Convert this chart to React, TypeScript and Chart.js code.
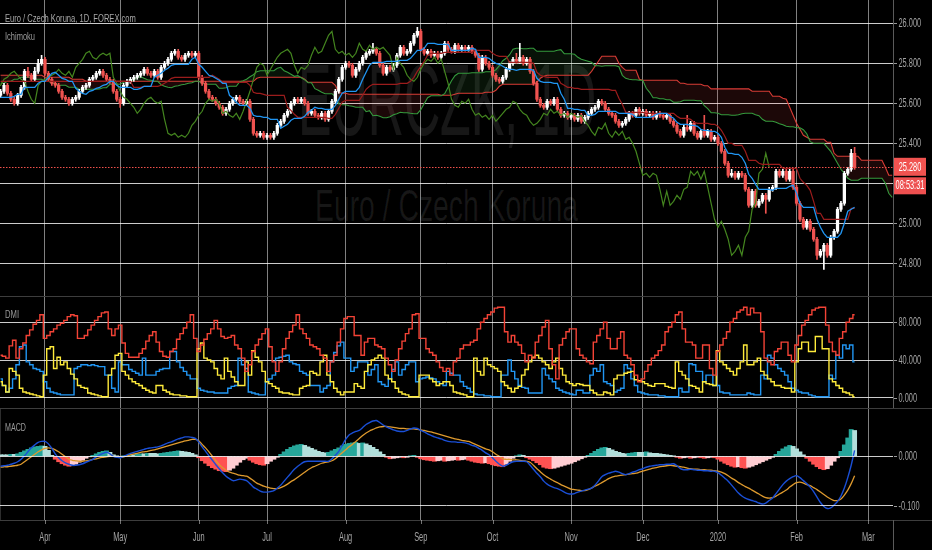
import React, { useEffect, useLayoutEffect, useRef, useState } from 'react';
import { Chart, registerables } from 'chart.js';

Chart.register(...registerables);

// ---------------- data ----------------
const monthLabels = ['Apr', 'May', 'Jun', 'Jul', 'Aug', 'Sep', 'Oct', 'Nov', 'Dec', '2020', 'Feb', 'Mar'];
const monthTickIndex = [13, 35, 58, 78, 101, 123, 144, 167, 188, 210, 233, 254];
const priceTicks = [24.8, 25.0, 25.2, 25.4, 25.6, 25.8, 26.0];
const dmiTicks = [0, 40, 80];
const macdTicks = [-0.1, 0];
const countdownText = '08:53:31';
const ICHI_SHIFT = 25;

const opens = [
  25.64, 25.66, 25.69, 25.65, 25.62, 25.60, 25.64, 25.68, 25.76, 25.74,
  25.72, 25.76, 25.80, 25.82, 25.75, 25.72, 25.70, 25.69, 25.66, 25.63,
  25.62, 25.60, 25.62, 25.63, 25.66, 25.68, 25.69, 25.72, 25.73, 25.75,
  25.76, 25.74, 25.72, 25.71, 25.66, 25.62, 25.60, 25.69, 25.71, 25.72,
  25.73, 25.74, 25.75, 25.77, 25.75, 25.74, 25.76, 25.73, 25.78, 25.80,
  25.82, 25.85, 25.86, 25.83, 25.82, 25.84, 25.85, 25.84, 25.85, 25.73,
  25.70, 25.66, 25.63, 25.62, 25.60, 25.58, 25.55, 25.57, 25.60, 25.62,
  25.63, 25.61, 25.60, 25.61, 25.52, 25.45, 25.44, 25.45, 25.43, 25.44,
  25.43, 25.45, 25.49, 25.51, 25.54, 25.56, 25.60, 25.62, 25.61, 25.62,
  25.60, 25.55, 25.56, 25.54, 25.53, 25.55, 25.52, 25.56, 25.61, 25.66,
  25.72, 25.78, 25.80, 25.79, 25.74, 25.77, 25.80, 25.83, 25.85, 25.86,
  25.87, 25.85, 25.79, 25.75, 25.78, 25.77, 25.79, 25.84, 25.88, 25.85,
  25.86, 25.90, 25.94, 25.96, 25.87, 25.85, 25.86, 25.84, 25.85, 25.83,
  25.85, 25.90, 25.87, 25.86, 25.89, 25.87, 25.88, 25.87, 25.88, 25.86,
  25.84, 25.77, 25.83, 25.80, 25.78, 25.74, 25.72, 25.71, 25.73, 25.77,
  25.80, 25.82, 25.81, 25.83, 25.80, 25.82, 25.76, 25.70, 25.62, 25.59,
  25.58, 25.61, 25.60, 25.62, 25.57, 25.54, 25.55, 25.53, 25.54, 25.52,
  25.54, 25.51, 25.53, 25.55, 25.57, 25.58, 25.61, 25.60, 25.57, 25.55,
  25.54, 25.51, 25.49, 25.50, 25.52, 25.55, 25.54, 25.57, 25.55, 25.56,
  25.54, 25.55, 25.53, 25.55, 25.54, 25.53, 25.54, 25.51, 25.49, 25.46,
  25.44, 25.48, 25.47, 25.50, 25.45, 25.43, 25.46, 25.44, 25.46, 25.42,
  25.43, 25.40, 25.36, 25.30, 25.24, 25.25, 25.23, 25.25, 25.24, 25.17,
  25.09, 25.16, 25.09, 25.11, 25.14, 25.12, 25.17, 25.18, 25.26, 25.24,
  25.26, 25.22, 25.26, 25.18, 25.10, 25.02, 24.98, 25.01, 24.97, 24.92,
  24.84, 24.86, 24.89, 24.84, 24.93, 24.96, 25.07, 25.10, 25.25, 25.27,
  25.35,
];
const highs = [
  25.67, 25.70, 25.70, 25.66, 25.63, 25.65, 25.69, 25.77, 25.78, 25.75,
  25.78, 25.82, 25.84, 25.83, 25.76, 25.73, 25.71, 25.70, 25.67, 25.64,
  25.63, 25.63, 25.64, 25.67, 25.69, 25.70, 25.73, 25.74, 25.76, 25.77,
  25.77, 25.75, 25.73, 25.72, 25.67, 25.63, 25.70, 25.72, 25.73, 25.74,
  25.75, 25.76, 25.78, 25.78, 25.76, 25.77, 25.77, 25.79, 25.81, 25.83,
  25.86, 25.87, 25.87, 25.84, 25.85, 25.86, 25.86, 25.86, 25.86, 25.74,
  25.71, 25.67, 25.64, 25.63, 25.61, 25.59, 25.58, 25.61, 25.63, 25.64,
  25.64, 25.62, 25.62, 25.62, 25.53, 25.46, 25.46, 25.46, 25.45, 25.45,
  25.46, 25.50, 25.52, 25.55, 25.57, 25.61, 25.63, 25.63, 25.63, 25.63,
  25.61, 25.57, 25.57, 25.55, 25.56, 25.56, 25.57, 25.62, 25.67, 25.73,
  25.79, 25.81, 25.81, 25.80, 25.78, 25.81, 25.84, 25.86, 25.87, 25.90,
  25.88, 25.86, 25.80, 25.79, 25.79, 25.80, 25.85, 25.89, 25.89, 25.87,
  25.91, 25.95, 25.98, 25.97, 25.88, 25.87, 25.87, 25.86, 25.86, 25.86,
  25.91, 25.91, 25.88, 25.90, 25.90, 25.89, 25.89, 25.89, 25.89, 25.87,
  25.85, 25.84, 25.84, 25.81, 25.79, 25.75, 25.73, 25.74, 25.78, 25.81,
  25.83, 25.85, 25.90, 25.84, 25.83, 25.83, 25.77, 25.71, 25.63, 25.60,
  25.62, 25.62, 25.63, 25.63, 25.58, 25.56, 25.56, 25.55, 25.55, 25.55,
  25.55, 25.54, 25.56, 25.58, 25.59, 25.62, 25.62, 25.61, 25.58, 25.56,
  25.55, 25.52, 25.51, 25.53, 25.56, 25.56, 25.58, 25.58, 25.57, 25.57,
  25.56, 25.56, 25.56, 25.56, 25.55, 25.55, 25.55, 25.52, 25.50, 25.47,
  25.49, 25.54, 25.51, 25.51, 25.46, 25.47, 25.54, 25.47, 25.47, 25.44,
  25.44, 25.41, 25.37, 25.31, 25.27, 25.26, 25.26, 25.26, 25.25, 25.18,
  25.17, 25.17, 25.12, 25.15, 25.15, 25.18, 25.19, 25.27, 25.27, 25.27,
  25.27, 25.27, 25.27, 25.19, 25.11, 25.03, 25.02, 25.02, 24.98, 24.93,
  24.87, 24.90, 24.90, 24.94, 24.97, 25.08, 25.11, 25.26, 25.28, 25.37,
  25.38,
];
const lows = [
  25.63, 25.65, 25.64, 25.61, 25.59, 25.59, 25.63, 25.67, 25.73, 25.71,
  25.71, 25.75, 25.79, 25.74, 25.71, 25.69, 25.68, 25.65, 25.62, 25.61,
  25.59, 25.59, 25.61, 25.62, 25.65, 25.67, 25.68, 25.71, 25.72, 25.74,
  25.73, 25.71, 25.70, 25.65, 25.61, 25.58, 25.59, 25.68, 25.70, 25.71,
  25.72, 25.73, 25.74, 25.74, 25.73, 25.73, 25.72, 25.72, 25.77, 25.79,
  25.81, 25.84, 25.82, 25.81, 25.81, 25.83, 25.83, 25.83, 25.72, 25.69,
  25.65, 25.62, 25.61, 25.59, 25.57, 25.54, 25.54, 25.56, 25.59, 25.61,
  25.60, 25.59, 25.59, 25.51, 25.44, 25.43, 25.43, 25.42, 25.42, 25.42,
  25.42, 25.44, 25.48, 25.50, 25.53, 25.55, 25.59, 25.60, 25.60, 25.59,
  25.54, 25.54, 25.53, 25.52, 25.52, 25.51, 25.51, 25.55, 25.60, 25.65,
  25.71, 25.77, 25.78, 25.73, 25.73, 25.76, 25.79, 25.82, 25.84, 25.85,
  25.84, 25.78, 25.74, 25.74, 25.76, 25.76, 25.78, 25.83, 25.84, 25.84,
  25.85, 25.89, 25.93, 25.86, 25.84, 25.84, 25.83, 25.83, 25.82, 25.82,
  25.84, 25.86, 25.85, 25.85, 25.86, 25.86, 25.86, 25.86, 25.85, 25.83,
  25.76, 25.76, 25.79, 25.77, 25.73, 25.71, 25.70, 25.70, 25.72, 25.76,
  25.79, 25.80, 25.80, 25.79, 25.79, 25.75, 25.69, 25.61, 25.58, 25.57,
  25.57, 25.59, 25.59, 25.56, 25.53, 25.53, 25.52, 25.52, 25.51, 25.51,
  25.50, 25.50, 25.52, 25.54, 25.56, 25.57, 25.59, 25.56, 25.54, 25.53,
  25.50, 25.48, 25.48, 25.49, 25.51, 25.53, 25.53, 25.54, 25.54, 25.53,
  25.53, 25.52, 25.52, 25.53, 25.52, 25.52, 25.50, 25.48, 25.45, 25.43,
  25.43, 25.46, 25.46, 25.44, 25.42, 25.42, 25.43, 25.43, 25.41, 25.41,
  25.39, 25.35, 25.29, 25.23, 25.23, 25.22, 25.22, 25.23, 25.16, 25.08,
  25.08, 25.08, 25.08, 25.10, 25.05, 25.11, 25.16, 25.17, 25.23, 25.23,
  25.21, 25.21, 25.17, 25.09, 25.01, 24.97, 24.97, 24.96, 24.91, 24.82,
  24.83, 24.77, 24.83, 24.83, 24.92, 24.95, 25.06, 25.09, 25.24, 25.26,
  25.27,
];
const closes = [
  25.66, 25.69, 25.65, 25.62, 25.60, 25.64, 25.68, 25.76, 25.74, 25.72,
  25.76, 25.80, 25.82, 25.75, 25.72, 25.70, 25.69, 25.66, 25.63, 25.62,
  25.60, 25.62, 25.63, 25.66, 25.68, 25.69, 25.72, 25.73, 25.75, 25.76,
  25.74, 25.72, 25.71, 25.66, 25.62, 25.60, 25.69, 25.71, 25.72, 25.73,
  25.74, 25.75, 25.77, 25.75, 25.74, 25.76, 25.73, 25.78, 25.80, 25.82,
  25.85, 25.86, 25.83, 25.82, 25.84, 25.85, 25.84, 25.85, 25.73, 25.70,
  25.66, 25.63, 25.62, 25.60, 25.58, 25.55, 25.57, 25.60, 25.62, 25.63,
  25.61, 25.60, 25.61, 25.52, 25.45, 25.44, 25.45, 25.43, 25.44, 25.43,
  25.45, 25.49, 25.51, 25.54, 25.56, 25.60, 25.62, 25.61, 25.62, 25.60,
  25.55, 25.56, 25.54, 25.53, 25.55, 25.52, 25.56, 25.61, 25.66, 25.72,
  25.78, 25.80, 25.79, 25.74, 25.77, 25.80, 25.83, 25.85, 25.86, 25.87,
  25.85, 25.79, 25.75, 25.78, 25.77, 25.79, 25.84, 25.88, 25.85, 25.86,
  25.90, 25.94, 25.96, 25.87, 25.85, 25.86, 25.84, 25.85, 25.83, 25.85,
  25.90, 25.87, 25.86, 25.89, 25.87, 25.88, 25.87, 25.88, 25.86, 25.84,
  25.77, 25.83, 25.80, 25.78, 25.74, 25.72, 25.71, 25.73, 25.77, 25.80,
  25.82, 25.81, 25.83, 25.80, 25.82, 25.76, 25.70, 25.62, 25.59, 25.58,
  25.61, 25.60, 25.62, 25.57, 25.54, 25.55, 25.53, 25.54, 25.52, 25.54,
  25.51, 25.53, 25.55, 25.57, 25.58, 25.61, 25.60, 25.57, 25.55, 25.54,
  25.51, 25.49, 25.50, 25.52, 25.55, 25.54, 25.57, 25.55, 25.56, 25.54,
  25.55, 25.53, 25.55, 25.54, 25.53, 25.54, 25.51, 25.49, 25.46, 25.44,
  25.48, 25.47, 25.50, 25.45, 25.43, 25.46, 25.44, 25.46, 25.42, 25.43,
  25.40, 25.36, 25.30, 25.24, 25.25, 25.23, 25.25, 25.24, 25.17, 25.09,
  25.16, 25.09, 25.11, 25.14, 25.12, 25.17, 25.18, 25.26, 25.24, 25.26,
  25.22, 25.26, 25.18, 25.10, 25.02, 24.98, 25.01, 24.97, 24.92, 24.84,
  24.86, 24.89, 24.84, 24.93, 24.96, 25.07, 25.10, 25.25, 25.27, 25.35,
  25.28,
];

// Ichimoku conversion (blue) and base (dark red) lines, per bar
const tenkan = [
  25.63, 25.63, 25.63, 25.63, 25.635, 25.645, 25.645, 25.68, 25.68, 25.68,
  25.68, 25.70, 25.71, 25.71, 25.73, 25.75, 25.755, 25.74, 25.725, 25.72,
  25.71, 25.71, 25.675, 25.66, 25.65, 25.645, 25.66, 25.665, 25.675, 25.68,
  25.69, 25.695, 25.71, 25.71, 25.69, 25.68, 25.68, 25.68, 25.68, 25.67,
  25.67, 25.675, 25.685, 25.685, 25.685, 25.73, 25.74, 25.75, 25.765, 25.775,
  25.79, 25.795, 25.795, 25.795, 25.795, 25.795, 25.82, 25.83, 25.795, 25.78,
  25.76, 25.74, 25.735, 25.725, 25.715, 25.70, 25.70, 25.64, 25.625, 25.605,
  25.59, 25.59, 25.59, 25.575, 25.54, 25.535, 25.535, 25.53, 25.53, 25.52,
  25.52, 25.52, 25.475, 25.485, 25.495, 25.515, 25.525, 25.525, 25.525, 25.535,
  25.555, 25.565, 25.58, 25.575, 25.575, 25.57, 25.57, 25.57, 25.59, 25.62,
  25.65, 25.66, 25.66, 25.66, 25.66, 25.68, 25.72, 25.755, 25.79, 25.805,
  25.805, 25.805, 25.805, 25.81, 25.81, 25.81, 25.81, 25.815, 25.815, 25.815,
  25.825, 25.845, 25.865, 25.865, 25.875, 25.90, 25.90, 25.90, 25.895, 25.895,
  25.895, 25.895, 25.865, 25.865, 25.865, 25.865, 25.865, 25.865, 25.875, 25.87,
  25.83, 25.83, 25.83, 25.825, 25.81, 25.80, 25.795, 25.785, 25.775, 25.77,
  25.77, 25.765, 25.77, 25.77, 25.77, 25.77, 25.765, 25.725, 25.71, 25.705,
  25.705, 25.705, 25.70, 25.70, 25.65, 25.62, 25.575, 25.575, 25.57, 25.57,
  25.565, 25.565, 25.54, 25.54, 25.545, 25.56, 25.56, 25.56, 25.56, 25.56,
  25.56, 25.55, 25.55, 25.55, 25.55, 25.545, 25.53, 25.53, 25.53, 25.53,
  25.53, 25.535, 25.545, 25.55, 25.55, 25.55, 25.535, 25.525, 25.505, 25.495,
  25.495, 25.495, 25.49, 25.49, 25.485, 25.47, 25.465, 25.465, 25.46, 25.46,
  25.45, 25.43, 25.38, 25.35, 25.35, 25.345, 25.345, 25.33, 25.30, 25.245,
  25.225, 25.195, 25.17, 25.17, 25.17, 25.17, 25.165, 25.175, 25.175, 25.175,
  25.175, 25.185, 25.19, 25.15, 25.10, 25.08, 25.08, 25.08, 25.08, 25.02,
  24.98, 24.95, 24.93, 24.93, 24.93, 24.93, 24.95, 25.00, 25.06, 25.07,
  25.08,
];
const kijun = [
  25.71, 25.71, 25.71, 25.71, 25.71, 25.71, 25.71, 25.71, 25.71, 25.71,
  25.71, 25.71, 25.71, 25.71, 25.71, 25.71, 25.71, 25.71, 25.71, 25.71,
  25.71, 25.71, 25.71, 25.71, 25.71, 25.71, 25.71, 25.71, 25.71, 25.71,
  25.71, 25.71, 25.71, 25.71, 25.71, 25.71, 25.71, 25.71, 25.71, 25.68,
  25.68, 25.68, 25.685, 25.685, 25.685, 25.685, 25.685, 25.69, 25.70, 25.71,
  25.725, 25.73, 25.73, 25.73, 25.73, 25.73, 25.73, 25.73, 25.73, 25.73,
  25.73, 25.73, 25.74, 25.73, 25.72, 25.705, 25.705, 25.705, 25.705, 25.705,
  25.705, 25.705, 25.705, 25.69, 25.655, 25.65, 25.65, 25.645, 25.64, 25.64,
  25.64, 25.64, 25.64, 25.64, 25.58, 25.565, 25.545, 25.53, 25.53, 25.53,
  25.53, 25.53, 25.53, 25.53, 25.53, 25.53, 25.525, 25.525, 25.545, 25.575,
  25.605, 25.615, 25.615, 25.615, 25.615, 25.615, 25.64, 25.67, 25.685, 25.695,
  25.695, 25.695, 25.695, 25.695, 25.695, 25.695, 25.695, 25.70, 25.70, 25.70,
  25.71, 25.73, 25.76, 25.785, 25.81, 25.84, 25.85, 25.85, 25.85, 25.85,
  25.855, 25.855, 25.855, 25.855, 25.855, 25.855, 25.855, 25.855, 25.855, 25.865,
  25.865, 25.865, 25.865, 25.865, 25.85, 25.84, 25.835, 25.835, 25.835, 25.805,
  25.805, 25.805, 25.805, 25.805, 25.805, 25.805, 25.80, 25.755, 25.74, 25.735,
  25.73, 25.73, 25.73, 25.73, 25.70, 25.69, 25.68, 25.68, 25.675, 25.675,
  25.67, 25.67, 25.67, 25.67, 25.67, 25.67, 25.67, 25.67, 25.67, 25.665,
  25.665, 25.625, 25.595, 25.555, 25.555, 25.555, 25.555, 25.555, 25.555, 25.55,
  25.55, 25.55, 25.55, 25.55, 25.55, 25.55, 25.55, 25.55, 25.535, 25.525,
  25.525, 25.525, 25.52, 25.505, 25.50, 25.50, 25.50, 25.50, 25.495, 25.495,
  25.485, 25.465, 25.435, 25.40, 25.40, 25.39, 25.39, 25.39, 25.36, 25.315,
  25.315, 25.315, 25.30, 25.295, 25.295, 25.295, 25.295, 25.295, 25.295, 25.275,
  25.275, 25.275, 25.275, 25.275, 25.225, 25.205, 25.19, 25.165, 25.11, 25.05,
  25.05, 25.02, 25.02, 25.02, 25.02, 25.02, 25.02, 25.02, 25.02, 25.075,
  25.075,
];

// Leading spans, already at their plotted (forward-shifted) positions 0..261
const leadA = [
  25.70, 25.70, 25.71, 25.71, 25.72, 25.72, 25.73, 25.73, 25.73, 25.73,
  25.72, 25.72, 25.72, 25.71, 25.71, 25.70, 25.70, 25.69, 25.69, 25.69,
  25.68, 25.68, 25.68, 25.67, 25.67,
  25.67, 25.67, 25.67, 25.67, 25.672, 25.678, 25.678, 25.695, 25.695, 25.695,
  25.695, 25.705, 25.71, 25.71, 25.72, 25.73, 25.733, 25.725, 25.718, 25.715,
  25.71, 25.71, 25.693, 25.685, 25.68, 25.678, 25.685, 25.688, 25.693, 25.695,
  25.70, 25.703, 25.71, 25.71, 25.70, 25.695, 25.695, 25.695, 25.695, 25.675,
  25.675, 25.678, 25.685, 25.685, 25.685, 25.708, 25.713, 25.72, 25.733, 25.743,
  25.758, 25.763, 25.763, 25.763, 25.763, 25.763, 25.775, 25.78, 25.763, 25.755,
  25.745, 25.735, 25.738, 25.728, 25.718, 25.703, 25.703, 25.673, 25.665, 25.655,
  25.648, 25.648, 25.648, 25.633, 25.598, 25.593, 25.593, 25.588, 25.585, 25.58,
  25.58, 25.58, 25.558, 25.563, 25.538, 25.54, 25.535, 25.528, 25.528, 25.533,
  25.543, 25.548, 25.555, 25.553, 25.553, 25.55, 25.548, 25.548, 25.568, 25.598,
  25.628, 25.638, 25.638, 25.638, 25.638, 25.648, 25.68, 25.713, 25.738, 25.75,
  25.75, 25.75, 25.75, 25.753, 25.753, 25.753, 25.753, 25.758, 25.758, 25.758,
  25.768, 25.788, 25.813, 25.825, 25.843, 25.87, 25.875, 25.875, 25.873, 25.873,
  25.875, 25.875, 25.86, 25.86, 25.86, 25.86, 25.86, 25.86, 25.865, 25.868,
  25.848, 25.848, 25.848, 25.845, 25.83, 25.82, 25.815, 25.81, 25.805, 25.788,
  25.788, 25.785, 25.788, 25.788, 25.788, 25.788, 25.783, 25.74, 25.725, 25.72,
  25.718, 25.718, 25.715, 25.715, 25.675, 25.655, 25.628, 25.628, 25.623, 25.623,
  25.618, 25.618, 25.605, 25.605, 25.608, 25.615, 25.615, 25.615, 25.615, 25.613,
  25.613, 25.588, 25.573, 25.553, 25.553, 25.55, 25.543, 25.543, 25.543, 25.54,
  25.54, 25.543, 25.548, 25.55, 25.55, 25.55, 25.543, 25.538, 25.52, 25.51,
  25.51, 25.51, 25.505, 25.498, 25.493, 25.485, 25.483, 25.483, 25.478, 25.478,
  25.468, 25.448, 25.408, 25.40, 25.40, 25.40, 25.40, 25.38, 25.36, 25.33,
  25.30, 25.27, 25.25, 25.225, 25.215, 25.215, 25.215, 25.225, 25.225, 25.225,
  25.225, 25.225, 25.225, 25.225, 25.20, 25.15, 25.13,
];
const leadB = [
  25.74, 25.74, 25.74, 25.74, 25.74, 25.74, 25.74, 25.74, 25.74, 25.74,
  25.74, 25.74, 25.74, 25.73, 25.73, 25.73, 25.73, 25.73, 25.73, 25.73,
  25.73, 25.72, 25.72, 25.72, 25.72,
  25.71, 25.71, 25.71, 25.71, 25.71, 25.71, 25.71, 25.71, 25.71, 25.71,
  25.71, 25.71, 25.71, 25.71, 25.71, 25.71, 25.71, 25.71, 25.71, 25.71,
  25.71, 25.71, 25.71, 25.71, 25.71, 25.71, 25.71, 25.71, 25.71, 25.71,
  25.71, 25.71, 25.71, 25.71, 25.71, 25.71, 25.71, 25.71, 25.71, 25.71,
  25.71, 25.71, 25.71, 25.71, 25.71, 25.71, 25.71, 25.71, 25.71, 25.71,
  25.725, 25.73, 25.73, 25.73, 25.73, 25.73, 25.73, 25.73, 25.73, 25.73,
  25.73, 25.73, 25.73, 25.73, 25.72, 25.705, 25.705, 25.705, 25.705, 25.705,
  25.705, 25.705, 25.705, 25.69, 25.655, 25.65, 25.65, 25.645, 25.645, 25.645,
  25.645, 25.645, 25.645, 25.645, 25.645, 25.645, 25.645, 25.645, 25.645, 25.645,
  25.645, 25.645, 25.645, 25.645, 25.645, 25.645, 25.645, 25.645, 25.645, 25.645,
  25.645, 25.645, 25.645, 25.645, 25.64, 25.64, 25.64, 25.64, 25.645, 25.65,
  25.65, 25.65, 25.65, 25.65, 25.65, 25.65, 25.65, 25.655, 25.655, 25.655,
  25.665, 25.685, 25.695, 25.695, 25.695, 25.695, 25.695, 25.695, 25.695, 25.695,
  25.695, 25.695, 25.705, 25.725, 25.735, 25.74, 25.74, 25.74, 25.74, 25.74,
  25.74, 25.74, 25.74, 25.74, 25.74, 25.74, 25.74, 25.74, 25.76, 25.785,
  25.81, 25.835, 25.835, 25.835, 25.835, 25.835, 25.80, 25.78, 25.765, 25.765,
  25.765, 25.765, 25.72, 25.715, 25.715, 25.715, 25.715, 25.715, 25.715, 25.715,
  25.715, 25.715, 25.715, 25.715, 25.70, 25.70, 25.695, 25.695, 25.695, 25.695,
  25.695, 25.688, 25.688, 25.672, 25.672, 25.672, 25.672, 25.672, 25.672, 25.672,
  25.672, 25.672, 25.672, 25.672, 25.672, 25.66, 25.66, 25.66, 25.66, 25.66,
  25.66, 25.635, 25.635, 25.635, 25.625, 25.62, 25.58, 25.54, 25.50, 25.47,
  25.44, 25.43, 25.42, 25.42, 25.42, 25.42, 25.42, 25.405, 25.405, 25.35,
  25.335, 25.335, 25.335, 25.335, 25.335, 25.335, 25.335, 25.315, 25.315, 25.315,
  25.315, 25.315, 25.315, 25.315, 25.28, 25.24, 25.24,
];

// DMI pane
const adx = [
  45, 44, 42, 55, 61, 42, 52, 58, 66, 72, 78, 82, 88, 63, 66, 70, 73, 77, 79, 82,
  86, 88, 87, 63, 63, 66, 72, 77, 82, 86, 90, 91, 73, 66, 73, 77, 58, 47, 43, 43,
  43, 47, 52, 60, 66, 70, 59, 49, 44, 43, 49, 52, 62, 68, 74, 80, 88, 63, 49, 56,
  62, 68, 73, 82, 73, 65, 63, 64, 66, 56, 52, 42, 28, 35, 49, 56, 62, 68, 73, 54,
  38, 28, 38, 52, 63, 70, 77, 88, 73, 68, 63, 56, 54, 52, 45, 42, 28, 38, 45, 59,
  73, 84, 86, 86, 66, 66, 45, 59, 63, 63, 56, 54, 52, 42, 35, 28, 40, 52, 60, 68,
  73, 88, 89, 63, 63, 52, 48, 45, 38, 32, 28, 31, 24, 38, 42, 52, 56, 56, 59, 61,
  73, 80, 84, 88, 91, 95, 96, 96, 70, 59, 66, 59, 56, 47, 38, 45, 42, 59, 66, 75,
  82, 52, 35, 20, 56, 63, 70, 73, 73, 52, 45, 42, 38, 36, 59, 66, 73, 80, 63, 52,
  52, 63, 70, 45, 42, 35, 24, 17, 20, 28, 35, 42, 45, 50, 56, 70, 75, 80, 88, 91,
  73, 59, 59, 56, 42, 42, 56, 56, 31, 24, 49, 56, 63, 70, 80, 84, 91, 93, 96, 88,
  95, 90, 90, 70, 42, 38, 35, 49, 52, 59, 59, 45, 38, 56, 66, 77, 82, 88, 93, 95,
  96, 96, 77, 59, 49, 45, 63, 70, 80, 84, 88,
];
const diPlus = [
  20, 13, 6, 10, 20, 35, 54, 56, 38, 35, 31, 30, 28, 17, 10, 6, 5, 4, 3, 3,
  3, 3, 31, 33, 35, 35, 34, 35, 34, 33, 33, 24, 24, 10, 6, 38, 35, 35, 30, 28,
  26, 24, 42, 24, 24, 24, 28, 30, 31, 31, 49, 49, 38, 32, 28, 24, 20, 20, 10, 8,
  7, 6, 6, 5, 5, 5, 5, 10, 12, 13, 42, 35, 31, 6, 5, 4, 3, 3, 17, 20,
  24, 42, 43, 44, 45, 38, 36, 35, 28, 26, 24, 13, 13, 13, 6, 10, 13, 38, 48, 55,
  59, 42, 42, 28, 32, 38, 38, 38, 24, 30, 35, 17, 14, 12, 20, 30, 38, 24, 30, 35,
  38, 38, 17, 20, 21, 22, 21, 20, 17, 15, 13, 28, 26, 24, 24, 17, 12, 10, 6, 4,
  3, 3, 2, 2, 1, 1, 1, 24, 24, 40, 28, 20, 13, 11, 10, 5, 5, 5, 5, 31,
  24, 20, 17, 10, 8, 6, 5, 4, 3, 8, 8, 5, 5, 24, 31, 28, 35, 17, 15, 13,
  6, 8, 10, 35, 31, 20, 13, 6, 5, 4, 3, 3, 3, 2, 2, 1, 1, 1, 1, 10,
  6, 6, 36, 35, 28, 28, 17, 24, 24, 13, 13, 6, 5, 5, 3, 3, 3, 3, 3, 5,
  4, 3, 3, 24, 20, 45, 42, 35, 31, 28, 24, 17, 10, 8, 6, 5, 5, 3, 2, 1,
  1, 1, 1, 24, 20, 45, 42, 56, 52, 56, 38,
];
const diMinus = [
  17, 13, 6, 31, 28, 24, 10, 6, 5, 4, 3, 2, 1, 24, 52, 54, 31, 43, 35, 38,
  31, 25, 20, 13, 11, 10, 5, 4, 3, 2, 1, 1, 24, 31, 45, 47, 28, 24, 20, 17,
  15, 13, 10, 8, 6, 5, 13, 13, 8, 6, 4, 3, 3, 2, 2, 1, 1, 1, 52, 58,
  42, 40, 38, 31, 24, 20, 42, 28, 22, 17, 13, 13, 38, 24, 50, 43, 38, 28, 17, 15,
  12, 10, 6, 5, 5, 4, 3, 3, 10, 12, 13, 28, 26, 24, 38, 45, 24, 17, 10, 6,
  3, 6, 6, 6, 15, 12, 10, 28, 35, 40, 42, 45, 42, 24, 20, 17, 10, 6, 4, 3,
  1, 1, 1, 24, 24, 24, 20, 17, 13, 15, 17, 17, 13, 6, 5, 4, 3, 1, 1, 42,
  28, 24, 42, 35, 33, 31, 28, 17, 13, 10, 6, 10, 12, 24, 30, 38, 43, 45, 42, 38,
  35, 31, 38, 42, 31, 24, 17, 15, 13, 15, 14, 13, 13, 8, 5, 3, 3, 6, 5, 3,
  20, 24, 24, 26, 27, 28, 19, 18, 17, 15, 13, 12, 15, 15, 15, 12, 11, 10, 38, 28,
  24, 20, 13, 12, 10, 6, 17, 15, 14, 13, 50, 38, 35, 31, 28, 24, 31, 38, 56, 35,
  35, 38, 42, 28, 24, 20, 17, 13, 13, 11, 10, 10, 6, 38, 52, 59, 59, 49, 49, 65,
  65, 52, 52, 20, 17, 13, 10, 6, 5, 3, 1,
];

// MACD pane
const macdLine = [
  -0.020, -0.019, -0.018, -0.016, -0.014, -0.011, -0.006, 0.001, 0.009, 0.017,
  0.023, 0.028, 0.030, 0.030, 0.025, 0.016, 0.005, -0.003, -0.009, -0.013,
  -0.016, -0.018, -0.018, -0.017, -0.015, -0.012, -0.009, -0.006, -0.001, 0.003,
  0.006, 0.008, 0.005, 0.000, -0.002, -0.003, 0.000, 0.003, 0.006, 0.008,
  0.010, 0.012, 0.014, 0.016, 0.017, 0.018, 0.019, 0.021, 0.024, 0.027,
  0.029, 0.032, 0.035, 0.037, 0.039, 0.039, 0.038, 0.036, 0.029, 0.019,
  0.010, 0.001, -0.008, -0.017, -0.025, -0.033, -0.040, -0.045, -0.049, -0.048,
  -0.046, -0.047, -0.049, -0.055, -0.062, -0.066, -0.070, -0.072, -0.072, -0.071,
  -0.069, -0.064, -0.058, -0.050, -0.042, -0.034, -0.026, -0.020, -0.015, -0.011,
  -0.010, -0.010, -0.010, -0.010, -0.010, -0.010, -0.010, -0.005, 0.002, 0.010,
  0.022, 0.034, 0.043, 0.047, 0.050, 0.052, 0.058, 0.064, 0.068, 0.071,
  0.072, 0.068, 0.063, 0.059, 0.056, 0.053, 0.051, 0.050, 0.050, 0.052,
  0.055, 0.057, 0.056, 0.052, 0.049, 0.045, 0.042, 0.039, 0.037, 0.035,
  0.032, 0.030, 0.029, 0.029, 0.028, 0.028, 0.027, 0.025, 0.022, 0.020,
  0.016, 0.012, 0.007, 0.003, -0.003, -0.010, -0.016, -0.020, -0.018, -0.014,
  -0.011, -0.010, -0.010, -0.010, -0.011, -0.018, -0.026, -0.034, -0.041, -0.050,
  -0.056, -0.060, -0.063, -0.065, -0.068, -0.072, -0.075, -0.076, -0.075, -0.072,
  -0.070, -0.068, -0.066, -0.064, -0.058, -0.050, -0.041, -0.037, -0.034, -0.032,
  -0.030, -0.032, -0.035, -0.037, -0.035, -0.032, -0.030, -0.027, -0.025, -0.022,
  -0.020, -0.019, -0.018, -0.017, -0.017, -0.016, -0.016, -0.015, -0.019, -0.025,
  -0.027, -0.027, -0.026, -0.027, -0.028, -0.028, -0.029, -0.029, -0.030, -0.030,
  -0.033, -0.038, -0.044, -0.050, -0.058, -0.066, -0.074, -0.080, -0.084, -0.087,
  -0.089, -0.091, -0.094, -0.096, -0.094, -0.089, -0.084, -0.075, -0.066, -0.057,
  -0.050, -0.045, -0.041, -0.039, -0.043, -0.049, -0.055, -0.062, -0.071, -0.082,
  -0.093, -0.101, -0.105, -0.104, -0.098, -0.091, -0.080, -0.064, -0.043, -0.018,
  0.012,
];
const signalLine = [
  -0.022, -0.021, -0.021, -0.020, -0.019, -0.018, -0.016, -0.011, -0.006, -0.001,
  0.004, 0.009, 0.013, 0.016, 0.017, 0.016, 0.013, 0.009, 0.004, -0.001,
  -0.006, -0.008, -0.009, -0.010, -0.010, -0.009, -0.008, -0.006, -0.005, -0.003,
  -0.002, -0.001, 0.000, 0.000, -0.001, -0.002, -0.001, 0.001, 0.003, 0.005,
  0.006, 0.008, 0.009, 0.010, 0.012, 0.013, 0.015, 0.017, 0.019, 0.021,
  0.023, 0.025, 0.027, 0.029, 0.031, 0.032, 0.034, 0.034, 0.031, 0.024,
  0.017, 0.009, 0.000, -0.009, -0.017, -0.023, -0.028, -0.032, -0.034, -0.036,
  -0.038, -0.039, -0.040, -0.044, -0.049, -0.054, -0.057, -0.060, -0.062, -0.064,
  -0.065, -0.065, -0.063, -0.060, -0.056, -0.051, -0.047, -0.042, -0.037, -0.032,
  -0.027, -0.023, -0.020, -0.017, -0.014, -0.012, -0.011, -0.009, -0.005, 0.001,
  0.007, 0.013, 0.019, 0.024, 0.030, 0.036, 0.042, 0.047, 0.051, 0.054,
  0.057, 0.059, 0.060, 0.060, 0.059, 0.058, 0.057, 0.056, 0.056, 0.055,
  0.055, 0.055, 0.054, 0.053, 0.052, 0.050, 0.049, 0.047, 0.045, 0.043,
  0.041, 0.039, 0.037, 0.035, 0.034, 0.032, 0.031, 0.030, 0.027, 0.024,
  0.021, 0.018, 0.015, 0.013, 0.009, 0.004, 0.000, -0.005, -0.006, -0.006,
  -0.007, -0.007, -0.008, -0.009, -0.010, -0.012, -0.018, -0.025, -0.031, -0.037,
  -0.042, -0.046, -0.050, -0.053, -0.057, -0.060, -0.063, -0.066, -0.067, -0.068,
  -0.069, -0.069, -0.067, -0.064, -0.060, -0.057, -0.053, -0.049, -0.045, -0.042,
  -0.040, -0.039, -0.038, -0.037, -0.036, -0.035, -0.034, -0.032, -0.030, -0.028,
  -0.026, -0.024, -0.023, -0.021, -0.020, -0.019, -0.018, -0.019, -0.020, -0.021,
  -0.022, -0.024, -0.025, -0.026, -0.026, -0.027, -0.027, -0.028, -0.028, -0.029,
  -0.030, -0.032, -0.035, -0.039, -0.044, -0.048, -0.053, -0.057, -0.061, -0.064,
  -0.068, -0.072, -0.076, -0.080, -0.083, -0.084, -0.083, -0.080, -0.076, -0.072,
  -0.068, -0.062, -0.057, -0.053, -0.052, -0.054, -0.057, -0.059, -0.063, -0.067,
  -0.072, -0.077, -0.082, -0.086, -0.089, -0.089, -0.086, -0.078, -0.068, -0.055,
  -0.039,
];
const macdHist = [
  0.003, 0.003, 0.003, 0.004, 0.004, 0.005, 0.008, 0.011, 0.014, 0.017,
  0.019, 0.020, 0.021, 0.020, 0.012, 0.002, -0.006, -0.011, -0.015, -0.018,
  -0.020, -0.019, -0.016, -0.012, -0.008, -0.004, -0.001, 0.002, 0.005, 0.008,
  0.010, 0.011, 0.008, 0.003, 0.001, -0.002, 0.001, 0.002, 0.003, 0.003,
  0.004, 0.005, 0.005, 0.006, 0.006, 0.006, 0.005, 0.006, 0.007, 0.008,
  0.009, 0.010, 0.011, 0.010, 0.009, 0.008, 0.006, 0.003, -0.003, -0.009,
  -0.014, -0.019, -0.023, -0.026, -0.029, -0.030, -0.031, -0.028, -0.024, -0.018,
  -0.012, -0.007, -0.004, -0.008, -0.012, -0.015, -0.017, -0.018, -0.015, -0.010,
  -0.006, -0.002, 0.004, 0.009, 0.014, 0.018, 0.021, 0.023, 0.024, 0.022,
  0.019, 0.016, 0.013, 0.010, 0.008, 0.007, 0.008, 0.011, 0.014, 0.017,
  0.021, 0.024, 0.026, 0.027, 0.028, 0.026, 0.027, 0.025, 0.022, 0.018,
  0.014, 0.009, 0.004, -0.002, -0.005, -0.004, -0.003, -0.002, -0.003, -0.002,
  0.001, 0.002, -0.002, -0.005, -0.007, -0.008, -0.009, -0.010, -0.009, -0.008,
  -0.010, -0.009, -0.008, -0.007, -0.008, -0.007, -0.006, -0.008, -0.010, -0.012,
  -0.013, -0.014, -0.013, -0.015, -0.017, -0.019, -0.020, -0.021, -0.016, -0.010,
  -0.004, 0.001, 0.003, 0.002, -0.003, -0.006, -0.009, -0.013, -0.017, -0.022,
  -0.024, -0.025, -0.024, -0.022, -0.020, -0.018, -0.016, -0.014, -0.011, -0.008,
  -0.005, -0.002, 0.002, 0.006, 0.010, 0.014, 0.017, 0.018, 0.016, 0.013,
  0.010, 0.008, 0.006, 0.005, 0.006, 0.007, 0.008, 0.008, 0.008, 0.009,
  0.007, 0.006, 0.006, 0.005, 0.004, 0.003, 0.002, 0.001, -0.002, -0.004,
  -0.003, -0.002, -0.004, -0.003, -0.002, -0.003, -0.004, -0.003, -0.002, -0.003,
  -0.006, -0.010, -0.014, -0.017, -0.020, -0.022, -0.021, -0.023, -0.024, -0.022,
  -0.020, -0.017, -0.014, -0.011, -0.008, -0.005, -0.002, 0.004, 0.010, 0.015,
  0.019, 0.022, 0.020, 0.015, 0.009, 0.003, -0.004, -0.010, -0.016, -0.021,
  -0.025, -0.027, -0.025, -0.018, -0.010, -0.003, 0.010, 0.023, 0.037, 0.054,
  0.052,
];

// ---------------- layout / style ----------------
const W = 932;
const MAIN_H = 296;
const DMI_H = 112;
const MACD_H = 142;
const X_AXIS_H = 30;
const AXIS_W = 39;
const X_MIN = -0.173;
const X_MAX = 261.24;
const FONT = '"Liberation Sans", Arial, Helvetica, sans-serif';
const SQUEEZE = 0.57;
const UP = '#ffffff';
const DOWN = '#ef5350';
const LABEL_COLOR = '#a3a3a3';
const SEP_COLOR = '#3d3d3d';

function drawSqueezed(ctx: CanvasRenderingContext2D, text: string, x: number, y: number, align: CanvasTextAlign) {
  ctx.save();
  ctx.translate(x, y);
  ctx.scale(SQUEEZE, 1);
  ctx.textAlign = align;
  ctx.fillText(text, 0, 0);
  ctx.restore();
}

const paneDecor = {
  id: 'paneDecor',
  afterDraw(chart: any, _args: any, opts: any) {
    const { ctx, chartArea } = chart;
    const ys = chart.scales.y;
    const xs = chart.scales.x;
    ctx.save();
    ctx.font = `13px ${FONT}`;
    ctx.textBaseline = 'middle';
    ctx.lineWidth = 1;
    ctx.strokeStyle = SEP_COLOR;
    if (opts.topSeparator) {
      ctx.beginPath();
      ctx.moveTo(0, 0.5);
      ctx.lineTo(chart.width, 0.5);
      ctx.stroke();
    }
    if (opts.timeAxis) {
      const by = Math.round(chartArea.bottom) + 0.5;
      ctx.beginPath();
      ctx.moveTo(0, by);
      ctx.lineTo(chart.width, by);
      ctx.stroke();
      ctx.strokeStyle = '#5a5a5a';
      const rx = Math.round(chartArea.right) + 0.5;
      ctx.beginPath();
      ctx.moveTo(rx, chartArea.bottom);
      ctx.lineTo(rx, chart.height);
      ctx.stroke();
      ctx.fillStyle = LABEL_COLOR;
      xs.ticks.forEach((t: any, i: number) => {
        const px = xs.getPixelForValue(t.value);
        ctx.strokeStyle = 'rgba(255,255,255,0.45)';
        ctx.beginPath();
        ctx.moveTo(Math.round(px) + 0.5, chartArea.bottom);
        ctx.lineTo(Math.round(px) + 0.5, chartArea.bottom + 4);
        ctx.stroke();
        drawSqueezed(ctx, monthLabels[i], px, chartArea.bottom + 17, 'center');
      });
    }
    ys.ticks.forEach((t: any) => {
      const py = Math.round(ys.getPixelForValue(t.value)) + 0.5;
      ctx.strokeStyle = 'rgba(255,255,255,0.6)';
      ctx.beginPath();
      ctx.moveTo(chartArea.right + 1, py);
      ctx.lineTo(chartArea.right + 4, py);
      ctx.stroke();
      ctx.fillStyle = LABEL_COLOR;
      drawSqueezed(ctx, t.value.toFixed(3), chartArea.right + 5.5, py, 'left');
    });
    if (opts.lastPrice) {
      const last = closes[closes.length - 1];
      const py = ys.getPixelForValue(last);
      const ly = Math.round(py) + 0.5;
      ctx.strokeStyle = '#f0504a';
      ctx.setLineDash([1.5, 1.5]);
      ctx.beginPath();
      ctx.moveTo(chartArea.left, ly);
      ctx.lineTo(chartArea.right, ly);
      ctx.stroke();
      ctx.setLineDash([]);
      const bx = chartArea.right + 1;
      ctx.fillStyle = '#f05350';
      ctx.fillRect(bx, py - 9.5, 32, 18);
      ctx.fillStyle = '#ffffff';
      drawSqueezed(ctx, last.toFixed(3), bx + 16, py, 'center');
      ctx.fillStyle = '#ee5050';
      ctx.fillRect(bx, py + 10, 32, 17);
      ctx.fillStyle = '#ffffff';
      drawSqueezed(ctx, countdownText, bx + 16, py + 18.5, 'center');
    }
    ctx.restore();
  },
};

function makeOptions(yMin: number, yMax: number, yTicks: number[], xAxisHeight: number, decor: any, gridOnTop = false) {
  return {
    responsive: true,
    maintainAspectRatio: false,
    animation: false,
    events: [],
    layout: { padding: 0 },
    plugins: {
      legend: { display: false },
      tooltip: { enabled: false },
      paneDecor: decor,
    },
    scales: {
      x: {
        type: 'linear',
        min: X_MIN,
        max: X_MAX,
        offset: false,
        ticks: { display: false },
        grid: { color: 'rgba(255,255,255,0.5)', lineWidth: 1, drawTicks: false, offset: false },
        border: { display: false },
        afterBuildTicks: (s: any) => {
          s.ticks = monthTickIndex.map((v) => ({ value: v }));
        },
        afterFit: (s: any) => {
          s.height = xAxisHeight;
        },
      },
      y: {
        type: 'linear',
        position: 'right',
        min: yMin,
        max: yMax,
        ticks: { display: false },
        grid: { color: 'rgba(255,255,255,0.8)', lineWidth: 1, drawTicks: false, z: gridOnTop ? 1 : 0 },
        border: { display: true, color: '#5a5a5a' },
        afterBuildTicks: (s: any) => {
          s.ticks = yTicks.map((v) => ({ value: v }));
        },
        afterFit: (s: any) => {
          s.width = AXIS_W;
        },
      },
    },
  };
}

const candleColors = closes.map((c, i) => (c >= opens[i] ? UP : DOWN));

function mainConfig(): any {
  return {
    type: 'line',
    data: {
      datasets: [
        {
          label: 'Conversion Line',
          data: tenkan.map((v, i) => ({ x: i, y: v })),
          borderColor: '#2196f3',
          borderWidth: 1.3,
          pointRadius: 0,
          tension: 0,
          order: 1,
        },
        {
          label: 'Base Line',
          data: kijun.map((v, i) => ({ x: i, y: v })),
          borderColor: '#9b1c1c',
          borderWidth: 1.2,
          pointRadius: 0,
          tension: 0,
          order: 2,
        },
        {
          label: 'Lagging Span',
          data: closes.map((v, i) => ({ x: i - ICHI_SHIFT, y: v })),
          borderColor: '#44861f',
          borderWidth: 1.2,
          pointRadius: 0,
          tension: 0,
          order: 3,
        },
        {
          type: 'bar',
          label: 'Bodies',
          data: closes.map((c, i) => ({ x: i, y: [opens[i], c] })),
          backgroundColor: candleColors,
          barThickness: 2.6,
          minBarLength: 1,
          grouped: false,
          order: 4,
        },
        {
          type: 'bar',
          label: 'Wicks',
          data: highs.map((h, i) => ({ x: i, y: [lows[i], h] })),
          backgroundColor: candleColors,
          barThickness: 1,
          grouped: false,
          order: 5,
        },
        {
          label: 'Lead 1',
          data: leadA.map((v, p) => ({ x: p, y: v })),
          borderColor: '#359a3d',
          borderWidth: 1.1,
          pointRadius: 0,
          tension: 0,
          fill: { target: '+1', above: 'rgba(70,170,70,0.11)', below: 'rgba(255,70,70,0.11)' },
          order: 6,
        },
        {
          label: 'Lead 2',
          data: leadB.map((v, p) => ({ x: p, y: v })),
          borderColor: '#dc3b36',
          borderWidth: 1.1,
          pointRadius: 0,
          tension: 0,
          order: 7,
        },
      ],
    },
    options: makeOptions(24.6365, 26.1165, priceTicks, 0, { lastPrice: true }),
    plugins: [paneDecor],
  };
}

function dmiConfig(): any {
  const step = (arr: number[], color: string) => ({
    data: arr.map((v, i) => ({ x: i, y: v })),
    borderColor: color,
    borderWidth: 1.4,
    pointRadius: 0,
    stepped: 'middle',
  });
  return {
    type: 'line',
    data: {
      datasets: [
        { label: 'ADX', ...step(adx, '#f44336') },
        { label: '-DI', ...step(diMinus, '#ffeb3b') },
        { label: '+DI', ...step(diPlus, '#2196f3') },
      ],
    },
    options: makeOptions(-10.9, 107.9, dmiTicks, 0, { topSeparator: true }),
    plugins: [paneDecor],
  };
}

function macdConfig(): any {
  const histColors = macdHist.map((h, i) => {
    const prev = i > 0 ? macdHist[i - 1] : h;
    if (h >= 0) return prev < h ? '#26a69a' : '#b2dfdb';
    return prev < h ? '#ffcdd2' : '#ff5252';
  });
  return {
    type: 'line',
    data: {
      datasets: [
        {
          label: 'MACD',
          data: macdLine.map((v, i) => ({ x: i, y: v })),
          borderColor: '#1a4fd6',
          borderWidth: 1.4,
          pointRadius: 0,
          tension: 0.3,
          order: 1,
        },
        {
          label: 'Signal',
          data: signalLine.map((v, i) => ({ x: i, y: v })),
          borderColor: '#de9a2e',
          borderWidth: 1.3,
          pointRadius: 0,
          tension: 0.3,
          order: 2,
        },
        {
          type: 'bar',
          label: 'Histogram',
          data: macdHist.map((v, i) => ({ x: i, y: v })),
          backgroundColor: histColors,
          barThickness: 4.2,
          grouped: false,
          order: 3,
        },
      ],
    },
    options: makeOptions(-0.1282, 0.0972, macdTicks, X_AXIS_H, { topSeparator: true, timeAxis: true }, true),
    plugins: [paneDecor],
  };
}

function ChartCanvas({ top, height, config }: { top: number; height: number; config: () => any }) {
  const ref = useRef<HTMLCanvasElement>(null);
  useEffect(() => {
    if (!ref.current) return;
    const chart = new Chart(ref.current, config());
    return () => chart.destroy();
  }, []);
  return (
    <div style={{ position: 'absolute', left: 0, top, width: W, height }}>
      <canvas ref={ref} />
    </div>
  );
}

function SqueezedText(props: { text: string; left?: number; centerX?: number; top: number; width: number; size: number; color: string; z?: number }) {
  const { text, left, centerX, top, width, size, color, z } = props;
  const ref = useRef<HTMLDivElement>(null);
  const [scale, setScale] = useState(1);
  useLayoutEffect(() => {
    const el = ref.current;
    if (el && el.offsetWidth > 0) setScale(width / el.offsetWidth);
  }, [text, width]);
  const x = centerX !== undefined ? centerX - width / 2 : left || 0;
  return (
    <div
      ref={ref}
      style={{
        position: 'absolute',
        left: x,
        top,
        fontFamily: FONT,
        fontSize: size,
        lineHeight: `${size}px`,
        color,
        whiteSpace: 'nowrap',
        transform: `scaleX(${scale})`,
        transformOrigin: '0 0',
        pointerEvents: 'none',
        zIndex: z ?? 2,
      }}
    >
      {text}
    </div>
  );
}

export default function App() {
  useEffect(() => {
    document.body.style.margin = '0';
    document.body.style.background = '#000';
  }, []);
  return (
    <div style={{ position: 'fixed', left: 0, top: 0, width: W, height: 550, background: '#000', overflow: 'hidden' }}>
      <SqueezedText text="EURCZK, 1D" centerX={446.5} top={48.5} width={298} size={102} color="rgba(255,255,255,0.09)" z={0} />
      <SqueezedText text="Euro / Czech Koruna" centerX={446.5} top={184} width={263} size={44.7} color="rgba(255,255,255,0.09)" z={0} />
      <div style={{ position: 'absolute', left: 0, top: 0, width: W, height: 550, zIndex: 1 }}>
        <ChartCanvas top={0} height={MAIN_H} config={mainConfig} />
        <ChartCanvas top={MAIN_H} height={DMI_H} config={dmiConfig} />
        <ChartCanvas top={MAIN_H + DMI_H} height={MACD_H} config={macdConfig} />
      </div>
      <SqueezedText text="Euro / Czech Koruna, 1D, FOREX.com" left={5} top={12.6} width={131} size={11.5} color="#a8a8a8" />
      <SqueezedText text="Ichimoku" left={5} top={31} width={30} size={11.5} color="#999999" />
      <SqueezedText text="DMI" left={5} top={308.6} width={14} size={11.5} color="#999999" />
      <SqueezedText text="MACD" left={5} top={421.6} width={21} size={11.5} color="#999999" />
    </div>
  );
}
